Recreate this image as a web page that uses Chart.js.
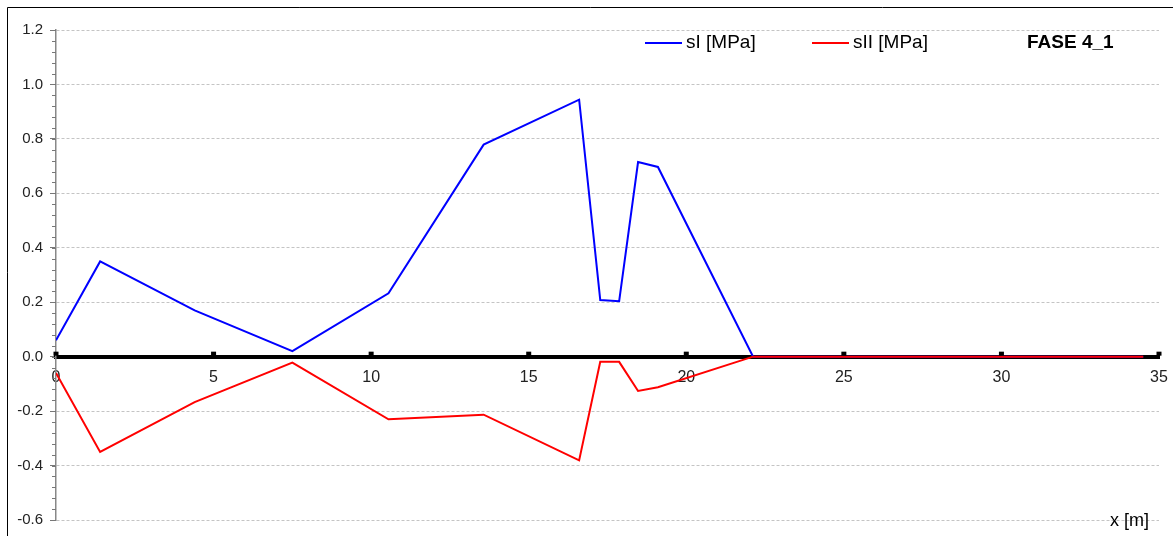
<!DOCTYPE html>
<html>
<head>
<meta charset="utf-8">
<script src="https://cdn.jsdelivr.net/npm/chart.js@4"></script>
<style>
  html, body { margin: 0; padding: 0; background: #fff; }
  #wrap { width: 1173px; height: 536px; }
</style>
</head>
<body>
<div id="wrap"><canvas id="stressChart"></canvas></div>
<script>
// ===== Données =====
const xPos = [0, 1.4, 4.4, 7.5, 10.55, 13.57, 16.6, 17.27, 17.87, 18.47, 19.1, 22.12, 34.5]
const sI = [0.06, 0.35, 0.17, 0.02, 0.233, 0.779, 0.944, 0.208, 0.204, 0.715, 0.697, 0, 0]
const sII = [-0.06, -0.35, -0.167, -0.022, -0.23, -0.213, -0.381, -0.019, -0.019, -0.126, -0.112, 0, 0]
const seriesLabels = ['sI [MPa]', 'sII [MPa]']
const phaseTitle = 'FASE 4_1'
const xTitle = 'x [m]'
const xRange = [0, 35]
const xStep = 5
const yRange = [-0.6, 1.2]
const yStep = 0.2
const yMinorStep = 0.04

const FONT = '"Liberation Sans", Arial, sans-serif'
const colors = ['#0000ff', '#ff0000']

const toPoints = (ys) => xPos.map((x, i) => ({ x: x, y: ys[i] }))

// cadre, petites marques d'axes, légende et titres
const decorPlugin = {
  id: 'decor',
  beforeDraw(chart) {
    const ctx = chart.ctx
    ctx.save()
    ctx.fillStyle = '#fff'
    ctx.fillRect(0, 0, chart.width, chart.height)
    ctx.strokeStyle = '#000'
    ctx.lineWidth = 1
    ctx.beginPath()
    ctx.moveTo(7.5, chart.height + 2)
    ctx.lineTo(7.5, 7.5)
    ctx.lineTo(chart.width + 2, 7.5)
    ctx.stroke()
    ctx.restore()
  },
  afterDraw(chart) {
    const ctx = chart.ctx
    const xs = chart.scales.x
    const ys = chart.scales.y
    const area = chart.chartArea
    const y0 = ys.getPixelForValue(0)
    ctx.save()

    // marques carrées sur l'axe x
    ctx.fillStyle = '#000'
    for (let v = xRange[0]; v <= xRange[1]; v += xStep) {
      const px = xs.getPixelForValue(v)
      ctx.fillRect(px - 2.5, y0 - 5, 5, 4)
    }

    // graduations mineures sur l'axe y
    ctx.strokeStyle = '#777'
    ctx.lineWidth = 1
    const n = Math.round((yRange[1] - yRange[0]) / yMinorStep)
    for (let i = 0; i <= n; i++) {
      const py = Math.round(ys.getPixelForValue(yRange[0] + i * yMinorStep)) + 0.5
      ctx.beginPath()
      ctx.moveTo(area.left - 4, py)
      ctx.lineTo(area.left, py)
      ctx.stroke()
    }

    // légende
    ctx.font = '19px ' + FONT
    ctx.textBaseline = 'middle'
    ctx.fillStyle = '#000'
    const legendX = [645, 812]
    chart.data.datasets.forEach((ds, i) => {
      ctx.strokeStyle = ds.borderColor
      ctx.lineWidth = 2
      ctx.beginPath()
      ctx.moveTo(legendX[i], 43)
      ctx.lineTo(legendX[i] + 37, 43)
      ctx.stroke()
      ctx.fillText(ds.label, legendX[i] + 41, 43)
    })
    ctx.font = 'bold 19px ' + FONT
    ctx.fillText(phaseTitle, 1027, 43)

    // titre axe x
    ctx.font = '18px ' + FONT
    ctx.fillText(xTitle, 1110, 521)
    ctx.restore()
  }
}

const ctx = document.getElementById('stressChart').getContext('2d')
window.stressChart = new Chart(ctx, {
  type: 'line',
  data: {
    datasets: [
      { label: seriesLabels[0], data: toPoints(sI), borderColor: colors[0], order: 2 },
      { label: seriesLabels[1], data: toPoints(sII), borderColor: colors[1], order: 1 }
    ]
  },
  options: {
    responsive: true,
    maintainAspectRatio: false,
    animation: false,
    elements: {
      line: { borderWidth: 2, tension: 0, fill: false },
      point: { radius: 0, hoverRadius: 0 }
    },
    layout: { padding: { left: 0, top: 30, right: 14, bottom: 16 } },
    plugins: { legend: { display: false }, tooltip: { enabled: false } },
    scales: {
      x: {
        type: 'linear',
        position: { y: 0 },
        min: xRange[0],
        max: xRange[1],
        afterFit: (scale) => { scale.paddingLeft = 0; scale.paddingRight = 0 },
        ticks: {
          stepSize: xStep,
          padding: 11,
          color: '#222',
          font: { family: FONT, size: 16 },
          maxRotation: 0,
          callback: (v) => v
        },
        grid: { drawOnChartArea: false, drawTicks: false },
        border: { display: true, color: '#000', width: 4 }
      },
      y: {
        type: 'linear',
        position: 'left',
        min: yRange[0],
        max: yRange[1],
        afterFit: (scale) => { scale.width = 56 },
        ticks: {
          stepSize: yStep,
          padding: 7,
          color: '#222',
          font: { family: FONT, size: 15 },
          callback: (v) => Number(v).toFixed(1)
        },
        grid: {
          color: '#c4c4c4',
          lineWidth: 1,
          tickColor: '#777',
          tickLength: 6
        },
        border: { display: true, color: '#888', width: 1.5, dash: [3, 2] }
      }
    }
  },
  plugins: [decorPlugin]
})
</script>
</body>
</html>
